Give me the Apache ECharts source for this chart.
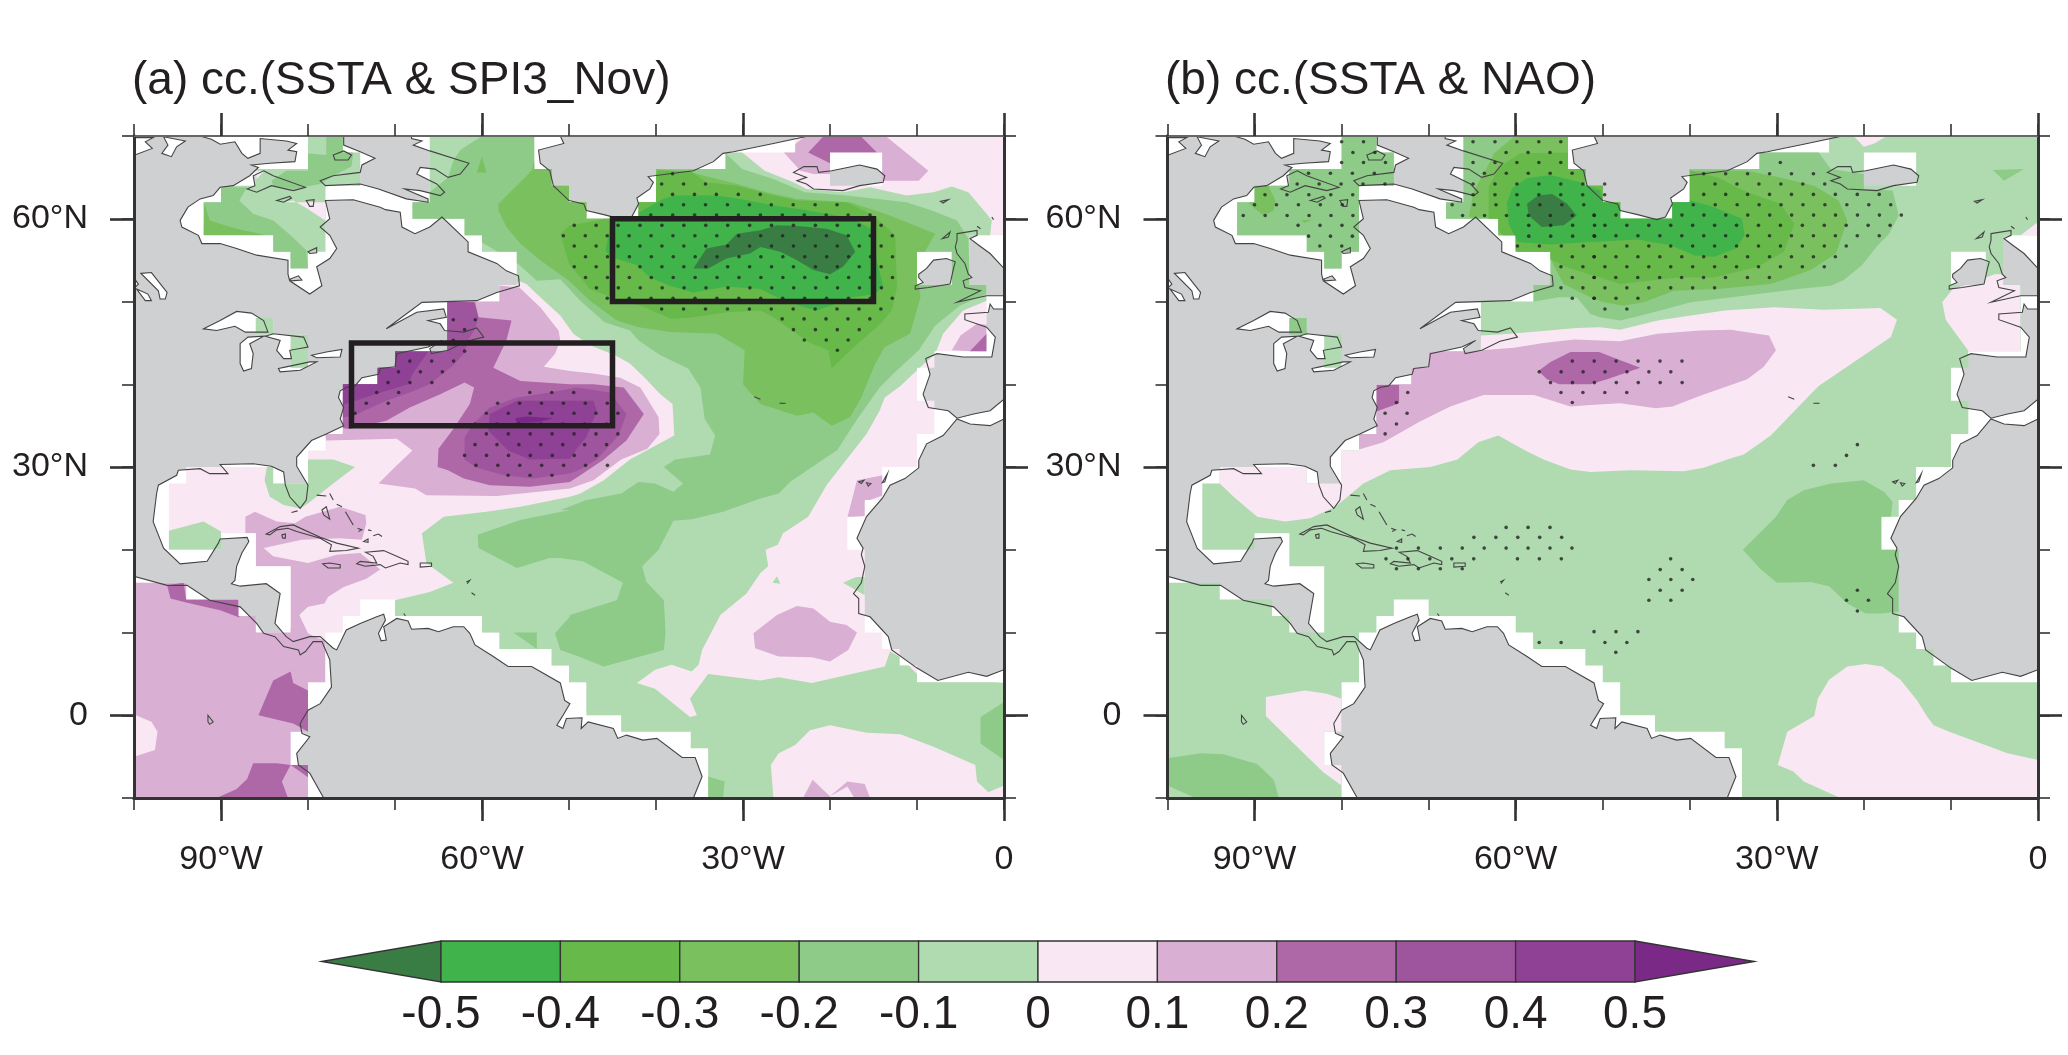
<!DOCTYPE html>
<html>
<head>
<meta charset="utf-8">
<title>cc. SSTA</title>
<script src="https://cdn.jsdelivr.net/npm/echarts@6/dist/echarts.min.js"></script>
<style>html,body{margin:0;background:#fff}#main{width:2068px;height:1055px}</style>
</head>
<body>
<div id="main"></div>
<script>
// colour bar
var cbLevels = [-0.6,-0.5,-0.4,-0.3,-0.2,-0.1,0,0.1,0.2,0.3,0.4,0.5,0.6];
var cbTicks = [-0.5,-0.4,-0.3,-0.2,-0.1,0,0.1,0.2,0.3,0.4,0.5];
var cbColors = ['#3a7d44','#40b34a','#67b94a','#7ac05f','#8ecb88','#b0dab0','#f9e8f3','#d9afd3','#ae68a8','#9f559e','#8f4195','#7a2a86'];

// axis ticks
var lonMajor = [-90,-60,-30,0];
var lonMinor = [-100,-90,-80,-70,-60,-50,-40,-30,-20,-10,0];
var latMajor = [0,30,60];
var latMinor = [-10,0,10,20,30,40,50,60,70];

var titleA = '(a) cc.(SSTA & SPI3_Nov)';
var titleB = '(b) cc.(SSTA & NAO)';

// lon boxes of panel a: west, south, east, north
var boxes = [[-45,50,-15,60],[-75,35,-45,45]];

// 2 degree cells that have SST data: north edge of the row, then lon runs
var oceanRows = [
 [70,[-80,-76],[-66,-54],[-24,0]],
 [68,[-80,-74],[-66,-54],[-32,-20],[-14,0]],
 [66,[-86,-74],[-66,-52],[-40,-20],[-14,0]],
 [64,[-90,-78],[-66,-50],[-40,0]],
 [62,[-92,-78],[-68,-48],[-42,0]],
 [60,[-92,-78],[-62,0]],
 [58,[-84,-78],[-60,-4]],
 [56,[-82,-80],[-56,-10],[-6,-4]],
 [54,[-56,-10],[-6,-4]],
 [52,[-58,-2]],
 [50,[-64,-2]],
 [48,[-86,-84],[-64,-2]],
 [46,[-82,-80],[-64,-2]],
 [44,[-82,-80],[-70,-8]],
 [42,[-72,-10]],
 [40,[-76,-10]],
 [38,[-76,-8]],
 [36,[-76,-8]],
 [34,[-78,-10]],
 [32,[-80,-10]],
 [30,[-94,-84],[-80,-14]],
 [28,[-96,-14]],
 [26,[-96,-16]],
 [24,[-96,-18]],
 [22,[-96,-90],[-86,-18]],
 [20,[-86,-16]],
 [18,[-82,-16]],
 [16,[-100,-94],[-82,-16]],
 [14,[-100,-88],[-82,-74],[-70,-16]],
 [12,[-100,-86],[-82,-76],[-60,-16]],
 [10,[-100,-78],[-58,-14]],
 [8,[-100,-78],[-52,-12]],
 [6,[-100,-78],[-50,-10]],
 [4,[-100,-80],[-48,0]],
 [2,[-100,-80],[-48,0]],
 [0,[-100,-80],[-44,0]],
 [-2,[-100,-82],[-36,0]],
 [-4,[-100,-82],[-34,0]],
 [-6,[-100,-80],[-34,0]],
 [-8,[-100,-80],[-34,0]]
];

// land, lon/lat
var america = [[-100,70],[-92.4,70],[-91.1,69.6],[-90.1,69],[-88.4,69.3],[-87.6,67.9],[-86.9,67.3],[-85.5,67.9],[-85.5,69.7],[-82.5,69.4],[-81.3,69.1],[-82.3,68.3],[-81.3,68.1],[-81.5,66.9],[-84.4,66.7],[-86.5,66.5],[-85.7,66.2],[-86.7,65.2],[-88.6,64],[-90.1,63.8],[-90.9,62.8],[-92.4,62.4],[-93.8,61.4],[-94.7,59.8],[-94.5,59],[-92.6,58],[-92.2,57],[-90.1,57],[-88.2,56.4],[-85.9,55.6],[-82.3,55],[-82.3,53.3],[-82.1,52.5],[-79.8,50.9],[-78.4,51.9],[-79,54.2],[-77.5,55.2],[-76.7,56.4],[-77.5,58],[-78.6,59],[-77.5,60],[-78,62.2],[-74.8,62.3],[-71.7,61.4],[-71.1,61.1],[-69.4,60.8],[-69.2,59],[-67.7,58.2],[-66,59],[-64.6,60.2],[-61.6,57.2],[-61.6,56],[-58.3,54.6],[-57.2,53.7],[-55.8,53.1],[-55.7,51.9],[-58.3,51.1],[-60.6,50.1],[-66.9,49.9],[-71,46.7],[-67.5,48.7],[-64.4,49.1],[-64.1,48.1],[-66.2,47.7],[-64.8,47.3],[-64.3,46.5],[-62.1,46.3],[-60.6,46.8],[-59.8,45.7],[-61.8,45.2],[-63.9,44.1],[-65.8,43.7],[-66,44.3],[-64.6,45.3],[-66.2,44.5],[-69.8,43.7],[-70,42.1],[-71.7,41.9],[-71.9,41.2],[-73.8,40.8],[-74.6,39.8],[-75.6,39.6],[-76.3,39.2],[-76.5,38.4],[-75.9,37.2],[-76.3,35.8],[-75.9,35],[-77.9,34],[-79.6,33.2],[-81.3,31.2],[-81.3,30.1],[-80,27.8],[-80.2,26],[-80.9,25],[-82.1,26.4],[-82.6,27.8],[-82.8,29.4],[-84.2,30.1],[-86.3,30.4],[-90.1,30.3],[-89.2,29.2],[-91.3,29.2],[-92.4,29.8],[-94.9,29.6],[-95.1,29],[-97.2,27.8],[-97.4,26.8],[-97.8,23.4],[-97.2,21.8],[-96.6,20.2],[-94.7,18.3],[-91.6,18.6],[-90.3,20.8],[-90.1,21.3],[-87,21.5],[-86.8,21],[-87.6,19.6],[-88.2,18],[-88.4,16.3],[-88.8,15.9],[-87.8,15.6],[-84.8,15.9],[-83.2,14.7],[-83.8,11.1],[-82.5,9.5],[-81.7,8.9],[-79.8,9.5],[-78.6,9.5],[-77.1,8.1],[-76.7,7.9],[-75.6,10.3],[-74,11.1],[-72.1,11.9],[-71.3,12.2],[-71.1,11.5],[-71.9,9.9],[-71.6,9],[-71,9.1],[-71.3,10.7],[-69.8,11.7],[-68.5,11.4],[-68.1,10.4],[-66.2,10.5],[-65,10.1],[-63.3,10.7],[-62.1,10.7],[-61.4,9.9],[-60.8,8.5],[-58.7,7.1],[-57,5.9],[-54.3,5.9],[-51,3.9],[-50.5,1.8],[-49.9,1.4],[-50.8,-0.2],[-51.4,-1.2],[-50.7,-1.6],[-50.3,-0.4],[-48.5,-0.3],[-48.6,-1.6],[-47.8,-0.8],[-44.9,-1.6],[-44.4,-2.8],[-43.4,-2.4],[-41.5,-3],[-39.9,-2.8],[-37,-5.1],[-35.5,-5.1],[-34.7,-7.4],[-35.7,-10],[-78.2,-10],[-79.8,-7],[-81.1,-6],[-81.3,-4.6],[-79.8,-2.6],[-80.7,-2.2],[-80.9,-1],[-80,0.6],[-78.6,1.4],[-77.3,3.4],[-77.5,6.7],[-78.4,8.9],[-79.4,8.9],[-80.3,7.7],[-80.9,7.3],[-81.1,7.9],[-82.8,8.3],[-83.8,9.5],[-85.1,9.9],[-85.9,11.1],[-87.8,13.1],[-91.3,13.9],[-93.9,15.7],[-96.2,15.7],[-100,16.8]];
var baffin = [[-75.9,70],[-68.1,70],[-68.1,69.7],[-66.9,69.4],[-67.9,68.9],[-66,68.2],[-61.5,66.7],[-62.5,65.4],[-63.9,65],[-65.4,66],[-67.1,66.2],[-67.5,65.4],[-65.2,64.2],[-64.3,63.2],[-64.8,62.8],[-67.1,63.4],[-68.9,63.6],[-66.2,62.4],[-66.2,62],[-68.7,62.4],[-71.9,63.6],[-74,64.2],[-78,64],[-78.6,64.6],[-77.1,65.2],[-74,65.6],[-73.8,66.5],[-72.3,67.3],[-74,68.1],[-75.9,68.9]];
var greenland = [[-51,70],[-50.6,69.1],[-53.5,68.3],[-53.3,66.7],[-52.2,65.8],[-51.8,64],[-50,62.2],[-48.3,61.8],[-48,61],[-46,60.5],[-43.8,59.9],[-42.8,60.2],[-42,61.8],[-42.2,62.5],[-40.7,63.6],[-40.3,64.4],[-40.9,65.1],[-38,65.5],[-35.7,65.8],[-33.4,66.9],[-32.3,67.9],[-31.1,68.1],[-26.5,69.1],[-22.9,69.9],[-22.9,70]];
var iceland = [[-24.2,65.6],[-23,66.3],[-21.5,66.3],[-21.3,65.6],[-19.8,65.8],[-16.6,66.5],[-14.6,66],[-13.7,65.2],[-13.9,64.4],[-16.6,64],[-18.5,63.4],[-21.9,63.6],[-22.7,64.2],[-23.8,64.6],[-22.7,65]];
var ireland = [[-9.8,53.3],[-8.9,54],[-8.1,55],[-6.6,55.2],[-5.6,54.8],[-5.8,54],[-6.2,52.1],[-8.7,51.7],[-10.2,51.5],[-10.2,51.9],[-9.3,52.3],[-9.8,52.9]];
var britain = [[-5.4,58.2],[-3.1,58.6],[-3.1,58],[-3.9,57.6],[-2.9,56.8],[-1.6,55.8],[0,54],[0,50.7],[-2,50.7],[-5.4,49.9],[-2.7,51.3],[-4.5,51.7],[-4.7,52.5],[-3.7,52.9],[-4.1,53.3],[-4.5,54.6],[-5.4,55.8],[-5.6,56.6],[-5.4,57.4]];
var europe = [[0,49.1],[-1.2,49.1],[-1.6,49.7],[-1.8,48.7],[-4.5,48.5],[-4.5,47.8],[-2,46.9],[-1,45.7],[-1.4,43.3],[-4.7,43.3],[-7.7,43.7],[-9,43.1],[-8.5,41.2],[-9.3,38.8],[-8.7,37.2],[-6.4,36.8],[-5.4,35.9],[-3.5,36.4],[-1.6,36.8],[0,38.2]];
var africa = [[0,35.8],[-1.6,35],[-3.9,35.2],[-5.4,35.8],[-7,33.8],[-8.9,32.8],[-9.8,30.8],[-9.8,29.9],[-11.4,28.6],[-13.1,27.8],[-14,26.2],[-15.8,24],[-16.9,21.4],[-16.2,20.2],[-16.4,19.4],[-16,18],[-16.4,16],[-17.3,14.7],[-16.7,14.1],[-16.7,12.3],[-15.4,11.9],[-13.3,9.5],[-12.9,7.9],[-10,5.7],[-7.6,4.2],[-4.1,5.2],[-2,4.7],[0,5.5]];
var islands = [
 [[-85.1,65.8],[-84,65.2],[-80.3,63.8],[-81.7,63.4],[-84.2,64],[-85.9,63.2],[-87,63.6],[-86.1,64],[-86.3,65.2]],
 [[-77.1,67.7],[-75.9,68.2],[-75,67.7],[-75.4,67.1],[-76.9,67.1]],
 [[-83.6,62.2],[-82.1,62.7],[-81.9,62.5],[-82.8,62]],
 [[-80.2,62.2],[-79.3,62.3],[-79.4,61.5],[-79.8,61.5]],
 [[-80,56],[-79,56.5],[-79,55.9],[-79.8,55.8]],
 [[-82.1,52.7],[-81.1,53.1],[-80.7,52.6],[-81.9,52.5]],
 [[-84.8,21.9],[-83.2,22.8],[-81.7,23],[-78.6,21.5],[-76.7,20.8],[-74.2,20.2],[-75.6,19.9],[-77.5,19.8],[-77.3,20.6],[-78.6,21.4],[-81.3,22.2],[-82.3,22.6],[-83.6,22.4],[-84.4,21.8]],
 [[-83,21.8],[-82.6,21.9],[-82.6,21.4],[-82.9,21.4]],
 [[-78.3,18.3],[-77.5,18.4],[-76.3,18.2],[-76.3,17.8],[-77.7,17.8]],
 [[-73.4,19.7],[-71.3,19.9],[-69.8,19.2],[-68.5,18.6],[-68.5,18.2],[-69.4,18.4],[-71.1,17.8],[-71.7,18.2],[-73.4,18],[-74.4,18.3],[-74,18.6],[-72.1,18.4],[-72.5,19.2]],
 [[-67.1,18.4],[-65.8,18.4],[-65.8,18],[-67.1,17.9]],
 [[-78.4,24.8],[-77.9,25.2],[-77.5,23.7],[-78.2,24.2]],
 [[-73.6,21],[-73.1,21.3],[-73.1,20.9]],
 [[-91.5,0],[-90.9,-0.8],[-91.3,-1.1],[-91.5,-0.8]],
 [[-7.3,62.1],[-6.4,62.3],[-7,61.9]],
 [[-7.1,57.6],[-6.2,58.4],[-6.4,57.8]],
 [[-16.7,28.2],[-16.1,28.4],[-16.4,28]],
 [[-15.8,28.1],[-15.3,28],[-15.6,27.7]],
 [[-14,28.1],[-13.4,29.2],[-13.7,28.2]]
];
var lakes = [
 [[-99.2,53.4],[-98,53.5],[-96.2,51.1],[-96.4,50.3],[-97,50.3],[-97.2,51.3]],
 [[-99.9,52.7],[-99.5,52.1],[-99.9,51.7]],
 [[-99.7,51.5],[-98.4,50.9],[-98,50.1],[-98.7,50.1]],
 [[-92,46.7],[-90.1,47.7],[-88.2,48.8],[-86.5,48.6],[-85.1,47.7],[-84.6,46.3],[-87.2,46.3],[-88.4,47],[-90.5,46.5]],
 [[-87.8,44.9],[-86.9,45.7],[-85.1,45.8],[-86.7,44.9],[-86.3,43.7],[-86.5,41.9],[-87.4,41.6],[-87.8,42.5]],
 [[-84.9,45.8],[-84,46.1],[-80.5,45.7],[-80,44.5],[-82.1,44.1],[-81.9,43.1],[-82.8,43.1],[-83.6,44.1],[-83.2,45.3]],
 [[-83.4,41.9],[-82.5,42.1],[-79.8,42.7],[-79,42.7],[-80.9,41.7],[-83.2,41.5]],
 [[-79.6,43.5],[-77.9,43.9],[-76.1,44.2],[-76.3,43.3],[-79,43.2]],
 [[-99.9,69.8],[-97.8,69.8],[-98.7,69.3],[-97.9,68.5],[-99.9,67.7]],
 [[-96.6,69.9],[-94.1,69.4],[-95.1,68.7],[-95.7,67.5],[-96.8,67.9],[-96.1,68.9]]
];
var shoreBits = [
 [[-79,26.6],[-77.9,26.5]],[[-77.5,26.8],[-77.1,26]],[[-76.7,25.5],[-76.1,25.2]],[[-75.7,24.6],[-74.8,23]],
 [[-74.3,22.6],[-73.8,22.4],[-74.2,22.2]],[[-73.1,22.4],[-72.7,22.3]],[[-72.5,21.7],[-71.9,21.9],[-71.5,21.6]],
 [[-81.9,24.5],[-81.2,24.7]],[[-61.8,16.1],[-61.4,16.3],[-61.7,15.9]],[[-61.2,14.8],[-60.8,14.5]],[[-69,12.3],[-68.8,12]],
 [[-28.7,38.5],[-28,38.2]],[[-25.8,37.7],[-25.1,37.7]],[[-1.4,60.2],[-1.2,59.9]],[[-3.1,59.1],[-2.7,58.8]]
];

// panel a, filled contours, painted in this order
var aAll = [[-100,70],[0,70],[0,-10],[-100,-10]];
var aLightMain = [[-70,70],[-32,70],[-30.1,68],[-27.5,65.8],[-24.2,64.4],[-22.7,63.6],[-18.5,63.2],[-15.4,63.8],[-11.2,62.8],[-8.1,63.2],[-6,63.9],[-4.1,63.2],[-2,60.6],[-1.4,59.8],[-1.6,58],[-2,52],[-2,50.1],[-4.7,48.9],[-7,46.1],[-7.9,43.7],[-9.8,41.9],[-11.9,39.8],[-13.7,38.4],[-14.3,36.8],[-15.8,34],[-18.1,30.9],[-20.4,27.8],[-22.5,24],[-25.4,22],[-26,20.6],[-27.4,20],[-27.1,18],[-28,17.2],[-29.6,14.7],[-32.6,12.1],[-34.7,7.9],[-35.1,6.1],[-35.9,5.3],[-38.2,6.1],[-40.1,5.5],[-42.2,3.9],[-40.1,3.2],[-36.1,-0.2],[-35.3,0],[-36.1,2],[-34,5],[-28,4.2],[-25.9,4.6],[-22.1,3.9],[-13.7,5.9],[-13.1,7.7],[-11.9,7],[-10,5],[0,3.9],[0,-10],[-70,-10],[-70,13.9],[-66,14.9],[-63.3,16],[-66.4,18.4],[-66.9,22],[-64.4,24],[-59.5,24.6],[-55.6,25.2],[-49.9,26.4],[-48.7,26.8],[-46,28.4],[-43,30.9],[-37.9,33.8],[-38.1,37.6],[-39.5,38.8],[-41.3,40.8],[-43,42.5],[-44.7,43.5],[-47.6,44.7],[-49.5,46.1],[-51,48.3],[-53.3,50.5],[-54.9,52.1],[-55.8,52.5],[-56,52],[-70,52]];
var aFlorida = [[-84.7,30.1],[-85,28.4],[-84.4,26.4],[-82.8,25.4],[-80.9,25],[-80,25.6],[-77.1,28],[-74.6,30],[-77.1,30.9],[-80,30.9]];
var aGulf = [[-96,22.3],[-92,23.4],[-90,22.2],[-90,20],[-96,20]];
var aHudson = [[-94,70],[-72,70],[-72,52],[-94,52]];
var aLakes = [[-87,49],[-80,49],[-80,41],[-87,41]];
var aHudsonPink = [[-82.8,62],[-81.7,62.2],[-80.2,61.3],[-78,59.8],[-77.9,62]];
var aHudsonPink2 = [[-86,65.8],[-85,65.8],[-85.9,64.8]];
var aHudsonMid1 = [[-80,67.9],[-77.9,67.7],[-77.9,69.9],[-76,69.9],[-74.8,67.9],[-75,66.3],[-77.1,65.2],[-78.6,64.2],[-81.7,63.6],[-84,64],[-84.2,64.6],[-82.5,65.8],[-80,65.8]];
var aHudsonMid2 = [[-92,62],[-90,63.8],[-87,63.8],[-87.9,62.2],[-86.3,60.6],[-84,59.8],[-82,58],[-80.2,56.2],[-80,54],[-82,54],[-84,56],[-84,58],[-92,58]];
var aHudsonDark = [[-91.9,61.8],[-91.3,59.8],[-88.2,58.8],[-84.8,58],[-92,58]];
var aBottomPink = [[-26.5,-10],[-26.8,-6],[-25.9,-4.6],[-24,-3.6],[-22.3,-1.8],[-20,-1.2],[-15.8,-2.1],[-11.9,-2.3],[-8.1,-3.8],[-3.3,-6],[-3.1,-8],[-1.8,-9.3],[0,-8.5],[0,-10]];
var aMidMain = [[-60,70],[-32,70],[-32,67.9],[-30.1,66],[-26.5,64.8],[-22.9,63.2],[-18.1,62.8],[-11.2,62],[-8.3,61],[-5.4,59.8],[-4.1,57.6],[-4,54.6],[-2,52],[-2,50.9],[-5.1,49.5],[-7.9,47.1],[-9.8,44.1],[-12.7,41.3],[-14.3,39.6],[-17,35.6],[-19.2,32],[-20.8,30.9],[-24.6,28.2],[-25.9,26.8],[-28,26.2],[-32.3,24.6],[-35.9,23.7],[-38,23.5],[-39.7,20],[-41.6,18],[-41.1,16.1],[-39.1,13.9],[-38.9,9.9],[-39.1,7.9],[-46,5.9],[-48.9,7.1],[-51,7.9],[-51.6,9.9],[-49.9,11.9],[-49.9,12.1],[-44.5,13.9],[-43.8,16],[-48.4,18.6],[-51,19],[-52.2,19],[-56,17.8],[-60.4,20.2],[-60.5,21.8],[-55.6,23.6],[-49.9,24.8],[-51,24.8],[-48,26],[-44,26.8],[-42,28.2],[-40.1,28],[-38,27],[-36.9,28],[-39.1,30],[-37.8,30.9],[-33.8,31.5],[-33.2,33.8],[-34.4,35.8],[-34.9,39.6],[-36.3,41.9],[-39.5,43.5],[-42,45.3],[-43,46.5],[-45.9,47.5],[-48.7,50.1],[-51,52.7],[-53.7,52.5],[-55.8,54.5],[-59.8,57],[-62,58],[-68,60],[-68,62],[-66,63.2],[-63.9,65],[-63.3,67],[-62.5,68.3]];
var aMidGuiana = [[-56.4,10],[-53.7,10],[-53.7,8],[-54.9,8.9]];
var aMidEast = [[0,1.6],[-2.7,-0.2],[-2.7,-3.4],[0,-5.4]];
var aMidSouth = [[-34,-7.4],[-32.1,-8],[-32.3,-10],[-34,-10]];
var aCanaryGreen = [[-18.5,16],[-17,16.7],[-16,16.7],[-16,14.5]];
var aDotGreen = [[-26.6,16],[-26.1,16.8],[-25.7,15.9]];
var aDarkMain = [[-54.3,65.8],[-58.1,61.8],[-58.1,61],[-57.2,59],[-55.6,57],[-53.3,55],[-50,52.5],[-47.6,50.1],[-44.5,47.7],[-42,46.9],[-38.4,46.3],[-33,46.1],[-29.8,44.1],[-30,40],[-28,37.6],[-23.8,36.2],[-21.9,36.6],[-19.8,35],[-17.7,36],[-16.4,38.4],[-14.8,42.5],[-13.7,44.5],[-10.8,46.1],[-9.6,50.5],[-9.8,52.1],[-9.1,56],[-7.9,58.2],[-13.1,60.4],[-17.7,62],[-23.8,62.4],[-27.3,63.2],[-30.7,64.2],[-35.9,65.6],[-38,65.8],[-40,66],[-40,67],[-54,67]];
var aDarkBaffin = [[-60,67.5],[-60.6,65.6],[-59.5,65.6]];
var aLevel3 = [[-39.9,65.8],[-36.1,65.8],[-34.2,64.4],[-30.7,64],[-26.5,62.8],[-23.8,62.2],[-18.1,62],[-15,60.4],[-12.5,58],[-12.3,51.7],[-12.9,48.9],[-14.2,47.3],[-18.1,43.7],[-19.8,41.9],[-20.2,44.1],[-22.5,45.1],[-26.5,48.1],[-28,48.9],[-31.9,48.7],[-35.7,48.1],[-38.2,47.9],[-41.8,49.5],[-45.1,50.5],[-47.6,51.5],[-50,54.6],[-51,58.2],[-49.9,59.2],[-46.8,59.8],[-45.3,60.2],[-43,60.4],[-42,62],[-40,64]];
var aLevel4 = [[-45.8,56.2],[-45.1,59.8],[-41.9,60.8],[-39.2,62.4],[-37.8,62.8],[-33,62.8],[-30.3,62.4],[-26.5,61.6],[-23.8,61.2],[-19.2,60.4],[-17.3,60],[-15,58.6],[-14.6,54.8],[-13.9,51.9],[-14.8,50.9],[-17.3,50.5],[-21.5,48.9],[-22.9,49.3],[-26.1,50.5],[-28,51.5],[-31.9,51.8],[-35.7,51.1],[-38.4,51.9],[-40.7,52.9],[-42.2,54.4],[-45.3,55.4]];
var aLevel5 = [[-35.7,54],[-34.2,56.4],[-31.9,56.9],[-30.7,58.2],[-28,58.6],[-26.1,59.2],[-23.4,59.1],[-20.4,58.8],[-18.1,58],[-17.1,56],[-18.5,54.2],[-20,53.3],[-21.9,53.8],[-23.8,55],[-25.7,56],[-28,56.6],[-29.2,55.8],[-31.9,55.2],[-34,54]];
var aPurple1 = [[-80,34],[-80,46],[-66,52],[-57.8,51.9],[-55.7,51.7],[-53.3,49.3],[-51.2,46.5],[-51,45.3],[-51.6,43.7],[-52.9,42.1],[-49.9,41.6],[-47.2,41.3],[-44.1,40.8],[-41.8,39.6],[-39.7,36],[-39.6,34],[-41,32.2],[-44,30.9],[-47.2,28.4],[-49.9,27.4],[-58.3,26.5],[-66.4,26.6],[-67.7,27.4],[-71.9,28],[-70.2,29.8],[-68,32],[-69.8,33.4],[-77.9,33.2],[-78,33.8]];
var aCarib = [[-87.2,24],[-86.1,24.6],[-83.6,23.4],[-81.5,23.2],[-80.3,24],[-76.3,25.2],[-73.4,24.2],[-73.3,23.2],[-73.8,21.2],[-76.3,21.4],[-80.7,21.2],[-85.1,20.2],[-84,19.2],[-80,18.4],[-76.7,19.4],[-74,19.6],[-71.7,17.6],[-73.3,16.5],[-75.9,15.5],[-77.7,14.3],[-78.1,13.5],[-80,13.1],[-81,12.1],[-80,9.9],[-78,8.8],[-82,10.2],[-82,18],[-86,18],[-86,22],[-87.2,22]];
var aPacific = [[-100,17],[-94,16],[-88,14],[-86,12],[-78,9],[-78,-10],[-100,-10]];
var aPacificPink = [[-100,0.1],[-98,-0.8],[-97.3,-2],[-97.6,-4.2],[-100,-5]];
var aIceland = [[-25.3,68],[-22.9,69.9],[-13.5,69.9],[-8.7,65.8],[-9.8,64.6],[-13.7,64.6],[-20,64],[-20,65.4],[-21.9,65.4],[-23.4,65.8]];
var aCanary = [[-18,23.9],[-16.9,28.4],[-13.9,29],[-13.9,26.6],[-16,25.8],[-16,24.1]];
var aBiscay = [[-6,44.1],[-5,45.9],[-3.1,47.3],[-2,47.2],[-2,43.9]];
var aMidAtl = [[-28.8,9.9],[-26.1,12.1],[-23.8,13.2],[-21.9,12.9],[-20,11.3],[-18.1,10.9],[-16.9,10],[-17.9,7.9],[-20,6.5],[-22.1,7],[-25.9,7.1],[-28.6,8.1]];
var aBottomP1 = [[-23.1,-10],[-22,-7.8],[-20,-9.8],[-20,-10]];
var aBottomP2 = [[-20,-9.8],[-18,-8],[-16,-8.3],[-15.4,-10],[-17.2,-10],[-18,-8.6]];
var aPurple2 = [[-75.2,34.6],[-71,35.6],[-68.3,37.2],[-64.8,38.8],[-62,40.2],[-60.9,39.6],[-61.4,37.6],[-63.3,34.6],[-65,32.2],[-65.1,30],[-63.9,29.6],[-62.1,28.6],[-59.1,27.8],[-54.5,27.6],[-49.9,28.2],[-48.7,29],[-46,30.9],[-43.4,33.2],[-41.4,36.4],[-43.7,39.6],[-47.2,40],[-49.9,40],[-55.6,40.4],[-58.7,42],[-57.2,45.3],[-56.6,47.7],[-60.4,48.1],[-60.8,49.9],[-64,49.9],[-76,50],[-78,35]];
var aIcelandP = [[-20.8,69.9],[-16.4,69.9],[-14.6,68],[-20,68],[-20,66.7],[-22.5,68]];
var aBiscayP = [[-4,43.9],[-2,46.1],[-2,43.9]];
var aTehuan = [[-96.2,15.7],[-94.3,16],[-94,14],[-88,14],[-87.9,11.8],[-90.1,12.7],[-93.9,13.6],[-95.8,14.1]];
var aPanama = [[-85.7,0],[-84,4.2],[-82,5.3],[-81.7,3.9],[-80,3],[-80,-2],[-81.7,-1]];
var aPeru = [[-90.5,-10],[-88.2,-8.9],[-87,-7.7],[-86.3,-5.8],[-83.6,-5.8],[-82,-6],[-83,-8],[-82.3,-10]];
var aPeru2 = [[-82,-6],[-80,-7.5],[-80,-6]];
var aCoast3 = [[-64,50],[-60.9,49.9],[-60.4,48.1],[-60.8,46.7],[-61.6,45.3],[-62.1,43.7],[-63.3,42.3],[-66,40],[-68.3,39],[-71,38],[-74.8,36.2],[-76,36],[-76,40],[-72,42],[-70,44],[-64,46]];
var aCoast4 = [[-76,40],[-72,42],[-70,44],[-66.2,43.9],[-67.9,41.4],[-68.5,40],[-71,39.2],[-75.2,37.8],[-76,37.5]];
var aCore3 = [[-56,38.4],[-59.1,37.2],[-61,35.2],[-62,33.6],[-62,30.9],[-60.6,29.9],[-57.5,29],[-54.1,28.6],[-49.9,29.2],[-48.7,29.7],[-46.8,30.9],[-44.3,33.8],[-43.4,36.4],[-45.3,39],[-49.1,39.6],[-52.2,39]];
var aCore4 = [[-56,38],[-59.1,36.4],[-59.3,34.4],[-57,32],[-54.5,30.9],[-49.9,31],[-49.1,32.2],[-48,33.6],[-46.8,36.8],[-47.2,38],[-50,38]];
var aCore5 = [[-56.2,35.9],[-54.9,36.1],[-51.8,35.9],[-53.7,35.4],[-56,35.3]];
var fieldA = [
 [0.05,aAll],[-0.05,aLightMain],[-0.05,aFlorida],[-0.05,aGulf],[-0.05,aHudson],[-0.05,aLakes],
 [0.05,aHudsonPink],[0.05,aHudsonPink2],[0.05,aBottomPink],
 [-0.15,aHudsonMid1],[-0.15,aHudsonMid2],[-0.25,aHudsonDark],
 [-0.15,aMidMain],[-0.15,aMidGuiana],[-0.15,aMidEast],[-0.15,aMidSouth],[-0.05,aCanaryGreen],[-0.05,aDotGreen],
 [-0.25,aDarkMain],[-0.25,aDarkBaffin],[-0.35,aLevel3],[-0.45,aLevel4],[-0.55,aLevel5],
 [0.15,aPurple1],[0.15,aCarib],[0.15,aPacific],[0.05,aPacificPink],[0.15,aIceland],[0.15,aCanary],[0.15,aBiscay],[0.15,aMidAtl],[0.15,aBottomP1],[0.15,aBottomP2],
 [0.25,aPurple2],[0.25,aIcelandP],[0.25,aBiscayP],[0.25,aTehuan],[0.25,aPanama],[0.25,aPeru],[0.25,aPeru2],
 [0.35,aCoast3],[0.45,aCoast4],[0.35,aCore3],[0.45,aCore4],[0.55,aCore5]
];

// panel b, filled contours
var bAll = [[-100,70],[0,70],[0,-10],[-100,-10]];
var bHudson = [[-94,70],[-72,70],[-72,52],[-94,52]];
var bSuperior = [[-87,49],[-84,49],[-84,45.9],[-87,45.9]];
var bPinkMain = [[-63.9,45.9],[-60.6,46.1],[-56.2,46.5],[-53,46.8],[-50.3,46.9],[-48,46.6],[-43.7,47.7],[-36,48.9],[-30.3,49.3],[-24.6,49],[-18.1,49.2],[-16.2,47.8],[-16.9,45.7],[-20,43.5],[-25.2,39.8],[-27.6,37.2],[-30.7,33.8],[-33.8,31.5],[-35.7,30.9],[-38.4,29.9],[-40.7,29.5],[-46.8,29.6],[-51.4,29.4],[-53.7,29.7],[-56.8,30.9],[-58.9,32],[-62,33.8],[-64.3,33],[-66.7,30.9],[-69.8,30],[-74.4,29.6],[-77.5,28],[-80.7,25.2],[-83.6,23.8],[-86.5,23.4],[-89.7,24],[-92.4,26.4],[-94,28],[-94,31],[-84,31],[-78,45],[-66,46.5]];
var bEuropePink = [[-11,49.9],[-9.8,51.5],[-7.9,52.1],[-5,53.3],[-3.9,53.3],[-2,51.9],[-2,43.9],[-7.9,43.9],[-10.6,47.8]];
var bTopPink = [[-21.1,69.9],[-17.5,69.9],[-18.8,69.1],[-20,68.7]];
var bScotPink = [[-2,58],[0,59.6],[0,58]];
var bSouthPink = [[-29.9,-6],[-28.8,-2],[-25.7,-0.1],[-25.3,2],[-24,4.3],[-21.9,5.9],[-19.8,6.2],[-17.9,5.9],[-15.8,4.3],[-13.9,1.8],[-12.7,-0.2],[-12,-1.2],[-10.2,-2],[-3.5,-4.6],[0,-5.4],[0,-10],[-22.7,-10],[-26.9,-8],[-28.1,-6.8]];
var bPacificPink = [[-88.7,2.2],[-84.2,3],[-81.7,2.6],[-80,2],[-80,-8.5],[-82.1,-6.9],[-85.5,-3.4],[-88.7,-0.1]];
var bAfrica = [[-33.9,20],[-30.1,24],[-28.8,26],[-26.9,27.2],[-23.8,28],[-20,28.4],[-17.7,27],[-16.7,25.8],[-16.9,24],[-16,20],[-16,12.5],[-18.1,12.3],[-19.8,12.3],[-21.9,13.5],[-24,15.6],[-26.1,16.1],[-30,16],[-32,17.8]];
var bPacificMid = [[-100,-5.2],[-96.2,-4.6],[-93.6,-4.7],[-89.7,-5.9],[-87.8,-7.8],[-87.2,-10],[-96.8,-10],[-100,-8.5]];
var bNorway = [[-5.2,65.9],[-1.6,66],[-3.9,64.6]];
var bHudsonDark = [[-90,64],[-88.4,64],[-87.6,62.2],[-87.8,61],[-89,60.4],[-90.7,61.9],[-90,62.2]];
var bHudsonDot = [[-84.7,59.8],[-83.4,59.9],[-84.2,59.5]];
var bMidMain = [[-68,70],[-25,70],[-25.2,68],[-23.8,66],[-20,65.4],[-20,63.6],[-16.7,63.4],[-16,60.4],[-17.1,58.2],[-18.4,56.8],[-20.2,54.4],[-22.3,52.6],[-23.8,51.9],[-27.6,51.5],[-32.2,50.9],[-36.8,50.3],[-39.9,49.9],[-43.4,48.9],[-46.4,48.1],[-48,47.7],[-50.3,48.1],[-51.4,48.5],[-53,50.5],[-55,50.5],[-57.9,50],[-58,54],[-68,58]];
var bDarkMain = [[-39.9,65.8],[-37.2,65.8],[-33.4,65.8],[-29.6,65],[-25.7,64],[-22.9,62.2],[-21.9,59.8],[-23.2,55.8],[-26.1,53.8],[-30.7,52.1],[-36.8,51.5],[-41.8,51.3],[-45.3,49.9],[-47.6,49.5],[-49.9,49.9],[-51.4,50.5],[-54.5,52.1],[-56,55.1],[-60,56],[-62,58],[-62,60],[-65.4,60.2],[-64.8,63.4],[-63.5,65.8],[-62.5,67.9],[-60.2,69.9],[-40,70]];
var bLevel3 = [[-53.9,68],[-59.5,67.9],[-61.8,66.3],[-63.1,63.9],[-63.1,59.9],[-59.8,56],[-56,55.1],[-54.1,54.1],[-50.3,52.9],[-48,52.1],[-44.7,52.5],[-41.4,52.9],[-37.2,52.9],[-32.2,54.2],[-29.2,56],[-28,59.4],[-29.6,61.8],[-33.4,63.2],[-36.8,65],[-39.9,65.8],[-40,66],[-52,66]];
var bLevel4 = [[-61,61.9],[-60.4,63.7],[-58.7,64.9],[-56,65.3],[-52.6,64.4],[-50.3,63.4],[-49.9,62],[-48,61.8],[-39.9,62.2],[-37.2,61.4],[-34,60],[-33.7,58],[-34.7,56.4],[-37.2,55.4],[-39.5,55.6],[-42.2,56.8],[-46,57.5],[-51.4,57.2],[-56,56.9],[-59.8,57.2],[-60.8,59.4]];
var bLevel5 = [[-58.7,61.8],[-57.4,62.8],[-55.8,63],[-54.1,61.8],[-53,60.4],[-54.5,59.2],[-57,59],[-58.5,60.4]];
var bPurple1 = [[-70,44],[-64,44.1],[-60.2,44.4],[-56.8,45],[-53.3,45.4],[-48,45.2],[-43.7,46.1],[-38.8,46.5],[-35.3,46.6],[-30.9,45.9],[-30.1,44.1],[-31.5,42.1],[-33.4,40.6],[-38.8,38.6],[-42,37.3],[-43.9,37.1],[-48,37.7],[-51.4,37.5],[-53.7,37.3],[-57.9,38.7],[-63.7,38.7],[-67.5,37.3],[-71,35.5],[-75.2,33],[-78,32.1],[-78,33.8],[-78,36],[-77,42],[-70,45]];
var bPurple2a = [[-76,39.9],[-73.4,39.9],[-73.4,37.7],[-76,36.7]];
var bPurple2b = [[-57.4,41.6],[-56,42.7],[-53.7,43.9],[-50.4,43.9],[-48.5,43.1],[-45.7,42],[-49.5,40.6],[-51.4,40],[-55,40],[-56.4,40.6]];
var fieldB = [
 [-0.05,bAll],[-0.15,bHudson],[-0.15,bSuperior],[-0.25,bHudsonDark],[-0.25,bHudsonDot],
 [0.05,bPinkMain],[0.05,bEuropePink],[0.05,bTopPink],[0.05,bScotPink],[0.05,bSouthPink],[0.05,bPacificPink],
 [-0.15,bAfrica],[-0.15,bPacificMid],[-0.15,bNorway],
 [-0.15,bMidMain],[-0.25,bDarkMain],[-0.35,bLevel3],[-0.45,bLevel4],[-0.55,bLevel5],
 [0.15,bPurple1],[0.25,bPurple2a],[0.25,bPurple2b]
];

// significance stipple: lat, first lon, number of dots along the row
var dotStep = 2.52;
var dotsA = [
 [65.44,-38.1,1],[64.2,-39.35,3],[62.94,-38.1,5],[61.7,-39.35,9],[60.44,-40.6,11],[59.2,-49.4,15],[57.95,-50.65,16],[56.7,-49.4,15],[55.4,-48.1,15],[54.2,-49.4,15],[52.9,-48.1,15],[51.65,-46.85,14],[50.4,-45.6,14],[49.1,-39.35,11],[47.9,-25.5,5],[46.6,-24.2,4],[45.35,-22.95,3],[44.1,-19.15,1],
 [47.8,-63.3,2],[46.6,-62,1],[45.3,-63.3,1],[44,-62,1],[42.8,-68.3,3],[41.5,-69.6,3],[40.2,-70.8,3],[39,-72.1,2],[37.7,-73.3,2],[36.5,-74.6,1],
 [39,-54.5,3],[37.7,-58.2,6],[36.5,-59.5,7],[35.2,-60.8,7],[34,-59.5,7],[32.7,-60.8,7],[31.4,-62,7],[30.2,-60.7,7],[29,-57,3]
];
var dotsB = [
 [69.3,-80,2],[69.3,-64.9,5],[68,-78.7,2],[68,-61.1,3],[66.8,-80,3],[66.8,-64.9,5],[65.5,-83.8,4],[65.5,-63.6,5],[64.2,-85.1,5],[64.2,-64.9,7],[62.9,-88.8,5],[62.9,-64.9,7],[61.7,-90,5],[61.7,-67.3,7],[60.4,-91.3,6],[60.4,-66.1,7],[59.2,-85,3],[59.2,-58.5,4],[57.9,-83.8,3],[57.9,-58.5,4],[56.7,-82.5,2],[56.7,-59.8,4],[55.4,-53.5,2],[54.2,-54.8,2],[52.9,-53.5,2],[51.65,-54.8,2],[50.4,-53.5,2],
 [66.8,-29.6,1],[65.44,-38.4,6],[64.2,-37.1,6],[62.94,-38.4,9],[61.7,-39.6,10],[60.44,-51,2],[60.44,-40.9,11],[59.2,-49.75,14],[57.95,-51,14],[56.7,-49.75,12],[55.4,-51,12],[54.2,-49.75,11],[52.9,-51,1],[52.9,-48.5,8],[51.65,-49.75,6],[50.4,-51,3],[49.1,-49.75,2],
 [42.8,-53.5,6],[41.5,-57.3,7],[40.2,-56,7],[39,-54.8,4],[37.8,-53.5,1],
 [39,-72.4,1],[37.8,-73.7,1],[36.5,-75,2],[35.2,-73.7,1],[34,-75,1],[32.7,-20.75,1],[31.4,-22,1],[30.2,-25.8,2],
 [22.7,-61.1,3],[21.5,-64.8,5],[20.2,-73.7,9],[18.9,-74.9,5],[18.9,-59.8,3],[17.7,-73.7,4],[10.1,-51,3],[8.8,-57.3,2],[8.8,-49.75,2],[7.6,-48.5,1],
 [18.9,-42.2,1],[17.6,-43.4,2],[16.4,-44.7,3],[15.1,-43.4,2],[13.9,-44.7,2],
 [15.1,-20.75,1],[13.9,-22,2],[12.6,-20.75,1]
];

var landShapes = [america,baffin,greenland,iceland,ireland,britain,europe,africa].concat(islands);
var coastClosed = landShapes.concat(lakes);

function colorOf(v) {
    for (var i = 0; i < cbColors.length; i++) {
        if (v >= cbLevels[i] && v < cbLevels[i + 1]) return cbColors[i];
    }
    return '#fff';
}
function maskPath(api) {
    var d = '';
    oceanRows.forEach(function(row) {
        for (var i = 1; i < row.length; i++) {
            var a = api.coord([row[i][0], row[0]]), b = api.coord([row[i][1], row[0] - 2]);
            d += 'M' + a[0] + ' ' + a[1] + 'L' + b[0] + ' ' + a[1] + 'L' + b[0] + ' ' + b[1] + 'L' + a[0] + ' ' + b[1] + 'Z';
        }
    });
    return d;
}
function expandDots(rows) {
    var out = [];
    rows.forEach(function(r) {
        for (var i = 0; i < r[2]; i++) out.push([r[1] + i * dotStep, r[0]]);
    });
    return out;
}
function fillSeries(shapes, fill, xi, z) {
    return {
        type: 'custom', xAxisIndex: xi, yAxisIndex: xi, z: z, silent: true,
        data: shapes.map(function(s, i) { return i; }),
        renderItem: function(params, api) {
            return {type: 'polygon', shape: {points: shapes[params.dataIndex].map(function(p) { return api.coord(p); })},
                style: {fill: fill, stroke: null}};
        }
    };
}
function fieldSeries(field, xi) {
    return {
        type: 'custom', xAxisIndex: xi, yAxisIndex: xi, z: 3, silent: true,
        data: field.map(function(s, i) { return i; }),
        renderItem: function(params, api) {
            var f = field[params.dataIndex];
            return {type: 'polygon', shape: {points: f[1].map(function(p) { return api.coord(p); })},
                style: {fill: colorOf(f[0]), stroke: null},
                clipPath: {type: 'path', shape: {pathData: maskPath(api)}}};
        }
    };
}
function coastSeries(xi) {
    var closed = coastClosed, open = shoreBits;
    return {
        type: 'custom', xAxisIndex: xi, yAxisIndex: xi, z: 4, silent: true,
        data: closed.concat(open).map(function(s, i) { return i; }),
        renderItem: function(params, api) {
            var i = params.dataIndex, isClosed = i < closed.length;
            var pts = (isClosed ? closed[i] : open[i - closed.length]).map(function(p) { return api.coord(p); });
            return {type: isClosed ? 'polygon' : 'polyline', shape: {points: pts},
                style: {fill: null, stroke: '#444', lineWidth: 1.1}};
        }
    };
}
function dotSeries(rows, xi) {
    return {type: 'scatter', xAxisIndex: xi, yAxisIndex: xi, z: 5, silent: true, symbol: 'circle', symbolSize: 3.6,
        itemStyle: {color: '#222'}, data: expandDots(rows)};
}
function boxSeries(b) {
    return {type: 'line', xAxisIndex: 0, yAxisIndex: 0, z: 6, silent: true, symbol: 'none',
        lineStyle: {color: '#231f20', width: 5.5, join: 'miter', cap: 'square'},
        data: [[b[0],b[1]],[b[2],b[1]],[b[2],b[3]],[b[0],b[3]],[b[0],b[1]]]};
}

function lonLabel(v) { return v === 0 ? '0' : (-v) + '°W'; }
function latLabel(v) { return v === 0 ? '0' : v + '°N'; }
function sideAxis(grid, min, max, interval, pos, ticks, len, width, color, label) {
    return {
        type: 'value', gridIndex: grid, min: min, max: max, interval: interval, position: pos, z: 10,
        splitLine: {show: false},
        axisLine: {show: true, onZero: false, lineStyle: {color: color, width: width}},
        axisTick: {show: true, inside: false, customValues: ticks, length: len, lineStyle: {color: '#333', width: len > 15 ? 2.6 : 1.6}},
        axisLabel: label || {show: false}
    };
}
var textStyle = {color: '#231f20', fontFamily: 'Liberation Sans', fontSize: 34};
function gridAxes(g, xs, ys) {
    var xl = Object.assign({show: true, customValues: lonMajor, formatter: lonLabel, margin: 45}, textStyle);
    var yl = Object.assign({show: true, customValues: latMajor, formatter: latLabel, margin: 46}, textStyle);
    xs.push(sideAxis(g,-100,0,10,'bottom',lonMajor,23,3,'#333',xl));
    xs.push(sideAxis(g,-100,0,10,'bottom',lonMinor,12,3,'#333'));
    xs.push(sideAxis(g,-100,0,10,'top',lonMajor,23,2,'#666'));
    xs.push(sideAxis(g,-100,0,10,'top',lonMinor,12,2,'#666'));
    ys.push(sideAxis(g,-10,70,10,'left',latMajor,24,3,'#333',yl));
    ys.push(sideAxis(g,-10,70,10,'left',latMinor,12,3,'#333'));
    ys.push(sideAxis(g,-10,70,10,'right',latMajor,24,3,'#333'));
    ys.push(sideAxis(g,-10,70,10,'right',latMinor,12,3,'#333'));
}

var xAxes = [], yAxes = [];
gridAxes(0, xAxes, yAxes);
gridAxes(1, xAxes, yAxes);
// colour bar axis
xAxes.push({type: 'value', gridIndex: 2, min: -0.6, max: 0.6, interval: 0.1, position: 'bottom',
    splitLine: {show: false}, axisLine: {show: false, onZero: false}, axisTick: {show: false},
    axisLabel: {show: true, customValues: cbTicks, margin: 10, color: '#231f20', fontFamily: 'Liberation Sans', fontSize: 46,
        formatter: function(v) { return String(+v.toFixed(1)); }}});
yAxes.push({type: 'value', gridIndex: 2, min: 0, max: 1, show: false});

var cbSeries = {
    type: 'custom', xAxisIndex: 8, yAxisIndex: 8, silent: true, z: 3,
    data: cbColors.map(function(c, i) { return i; }),
    renderItem: function(params, api) {
        var i = params.dataIndex, a = cbLevels[i], b = cbLevels[i + 1], pts;
        if (i === 0) pts = [[a,0.5],[b,1],[b,0]];
        else if (i === cbColors.length - 1) pts = [[a,1],[b,0.5],[a,0]];
        else pts = [[a,1],[b,1],[b,0],[a,0]];
        return {type: 'polygon', shape: {points: pts.map(function(p) { return api.coord(p); })},
            style: {fill: cbColors[i], stroke: '#333', lineWidth: 1.3}};
    }
};

var titleStyle = {color: '#231f20', fontFamily: 'Liberation Sans', fontSize: 46, fontWeight: 'normal'};
var option = {
    animation: false,
    backgroundColor: '#fff',
    tooltip: {show: false},
    title: [
        {text: titleA, left: 132, top: 58, padding: 0, textStyle: titleStyle},
        {text: titleB, left: 1165, top: 58, padding: 0, textStyle: titleStyle}
    ],
    grid: [
        {left: 134, top: 136, width: 870, height: 662},
        {left: 1167.5, top: 136, width: 870.5, height: 662},
        {left: 321.6, top: 941, width: 1432.8, height: 41}
    ],
    xAxis: xAxes,
    yAxis: yAxes,
    series: [
        fillSeries(landShapes, '#cfd0d2', 0, 1), fillSeries(lakes, '#fff', 0, 2), fieldSeries(fieldA, 0), coastSeries(0), dotSeries(dotsA, 0),
        boxSeries(boxes[0]), boxSeries(boxes[1]),
        fillSeries(landShapes, '#cfd0d2', 4, 1), fillSeries(lakes, '#fff', 4, 2), fieldSeries(fieldB, 4), coastSeries(4), dotSeries(dotsB, 4),
        cbSeries
    ]
};
var chart = echarts.init(document.getElementById('main'), null, {renderer: 'canvas'});
chart.setOption(option);
</script>
</body>
</html>
